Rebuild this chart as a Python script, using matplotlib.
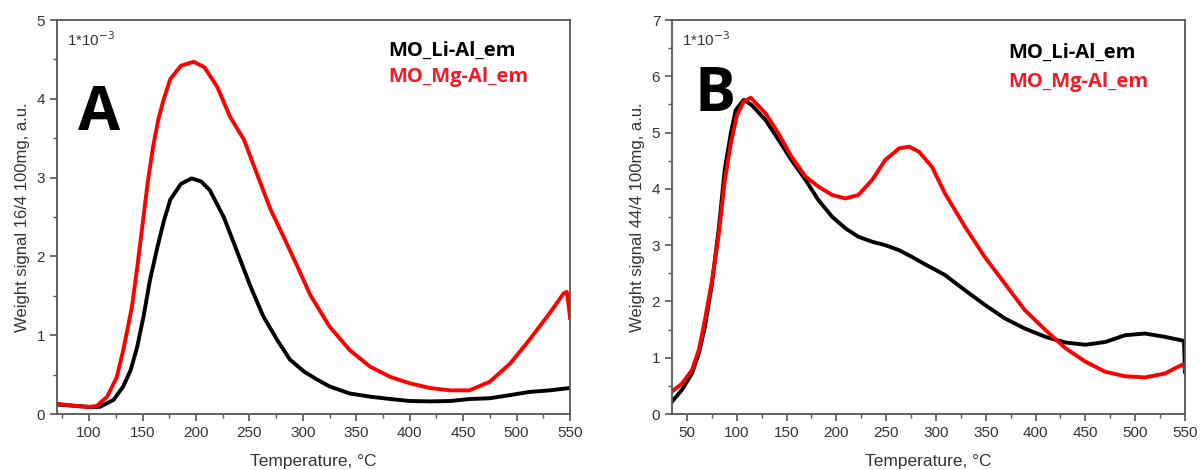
import numpy as np
import matplotlib.pyplot as plt
from matplotlib.ticker import MultipleLocator

# panel A : signal 16/4
tA_li = [70, 90, 100, 110, 123, 132, 139, 145, 151, 157, 164, 170, 176, 186, 196, 205, 213,
         226, 238, 251, 263, 276, 288, 301, 313, 325, 344, 363, 382, 400, 419, 438, 456,
         475, 494, 512, 531, 550]
yA_li = [0.12, 0.10, 0.09, 0.09, 0.18, 0.35, 0.56, 0.85, 1.24, 1.70, 2.12, 2.45, 2.72, 2.92, 2.99, 2.95, 2.84,
         2.50, 2.08, 1.62, 1.24, 0.94, 0.69, 0.54, 0.44, 0.35, 0.26, 0.22, 0.19, 0.165, 0.16, 0.165, 0.19,
         0.20, 0.24, 0.28, 0.30, 0.33]

tA_mg = [70, 89, 100, 107, 117, 126, 132, 140, 145, 150, 155, 160, 165, 170, 176, 186, 198, 208, 220,
         232, 245, 257, 270, 282, 295, 307, 325, 344, 363, 382, 400, 419, 438, 456, 475, 494,
         512, 531, 544, 547, 549, 550]
yA_mg = [0.13, 0.10, 0.09, 0.10, 0.22, 0.47, 0.81, 1.35, 1.85, 2.40, 2.95, 3.40, 3.75, 4.00, 4.25, 4.42, 4.47, 4.40, 4.15,
         3.77, 3.48, 3.05, 2.59, 2.25, 1.87, 1.51, 1.11, 0.81, 0.60, 0.47, 0.39, 0.33, 0.30, 0.30, 0.41, 0.64,
         0.94, 1.28, 1.53, 1.55, 1.35, 1.22]

# panel B : signal 44/4
tB_li = [35, 45, 55, 62, 68, 75, 82, 88, 94, 99, 107, 115, 129, 142, 155, 169, 182, 196, 209,
         222, 236, 249, 263, 276, 289, 309, 329, 349, 369, 389, 410, 430, 450, 470, 490, 510,
         530, 546, 549, 550]
yB_li = [0.22, 0.43, 0.72, 1.08, 1.55, 2.30, 3.30, 4.35, 4.98, 5.40, 5.58, 5.49, 5.22, 4.87, 4.51, 4.16, 3.80, 3.50, 3.30,
         3.15, 3.06, 3.00, 2.91, 2.79, 2.66, 2.47, 2.20, 1.94, 1.70, 1.52, 1.37, 1.27, 1.23, 1.28, 1.40, 1.43,
         1.37, 1.31, 1.30, 0.75]

tB_mg = [35, 45, 55, 62, 68, 75, 82, 88, 94, 100, 107, 114, 129, 142, 155, 169, 182, 196, 209,
         222, 236, 249, 263, 273, 283, 296, 309, 329, 349, 369, 389, 410, 430, 450, 470, 490,
         510, 530, 543, 548, 550]
yB_mg = [0.40, 0.54, 0.78, 1.14, 1.67, 2.35, 3.20, 4.15, 4.80, 5.30, 5.55, 5.62, 5.34, 4.98, 4.57, 4.22, 4.04, 3.89, 3.83,
         3.89, 4.16, 4.51, 4.72, 4.75, 4.66, 4.39, 3.92, 3.33, 2.79, 2.32, 1.85, 1.49, 1.17, 0.93, 0.75, 0.67,
         0.65, 0.72, 0.84, 0.88, 0.80]

labels = ['MO_Li-Al_em', 'MO_Mg-Al_em']
ylabels = ['Weight signal 16/4 100mg, a.u.', 'Weight signal 44/4 100mg, a.u.']

plt.rcParams['font.family'] = 'Liberation Sans'

fig = plt.figure(figsize=(12, 4.7), dpi=100)
axA = fig.add_axes([57/1200, 56/470, 513/1200, 394/470])
axB = fig.add_axes([672/1200, 56/470, 513/1200, 394/470])


def style(ax, xlim, ylim, xticks, ylab):
    ax.set_xlim(*xlim)
    ax.set_ylim(*ylim)
    ax.set_xticks(xticks)
    ax.set_yticks(range(ylim[0], ylim[1] + 1))
    ax.xaxis.set_minor_locator(MultipleLocator(25))
    ax.yaxis.set_minor_locator(MultipleLocator(0.5))
    for s in ax.spines.values():
        s.set_color('#555555')
        s.set_linewidth(1.3)
    ax.tick_params(which='both', direction='out', top=False, right=False,
                   colors='#555555', labelcolor='#333333', labelsize=11)
    ax.tick_params(which='major', length=5, width=1.2)
    ax.tick_params(which='minor', length=3, width=1.0)
    ax.set_xlabel('Temperature, °C', fontsize=12.5, color='#333333', labelpad=10)
    ax.set_ylabel(ylab, fontsize=12, color='#333333', labelpad=5)
    ax.text(0.02, 0.975, '1*10$^{-3}$', transform=ax.transAxes, fontsize=11,
            color='#333333', va='top', ha='left')


style(axA, (70, 550), (0, 5), range(100, 551, 50), ylabels[0])
style(axB, (35, 550), (0, 7), range(50, 551, 50), ylabels[1])

axA.plot(tA_li, yA_li, color='black', lw=2.8)
axA.plot(tA_mg, yA_mg, color='red', lw=2.8)
axB.plot(tB_li, yB_li, color='black', lw=2.8)
axB.plot(tB_mg, yB_mg, color='red', lw=2.8)

axA.text(0.04, 0.72, 'A', transform=axA.transAxes, fontsize=44,
         fontweight='bold', family='Open Sans', va='baseline')
axB.text(0.043, 0.77, 'B', transform=axB.transAxes, fontsize=44,
         fontweight='bold', family='Open Sans', va='baseline')

for ax, x0, y0, y1 in [(axA, 0.645, 0.91, 0.843), (axB, 0.655, 0.903, 0.83)]:
    ax.text(x0, y0, labels[0], transform=ax.transAxes, fontsize=14.5,
            fontweight='bold', family='Open Sans', color='black', va='baseline')
    ax.text(x0, y1, labels[1], transform=ax.transAxes, fontsize=14.5,
            fontweight='bold', family='Open Sans', color='#ee1c24', va='baseline')

fig.savefig('out.png', dpi=100)
